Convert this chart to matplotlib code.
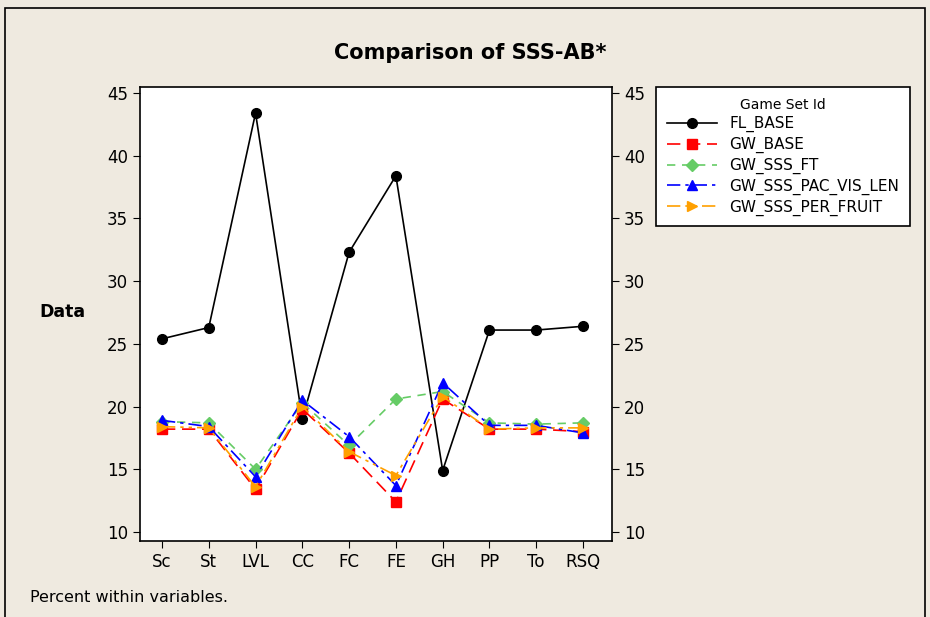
import matplotlib
matplotlib.use("Agg")
import matplotlib.pyplot as plt
from matplotlib.patches import Rectangle

# Data
categories = ["Sc", "St", "LVL", "CC", "FC", "FE", "GH", "PP", "To", "RSQ"]

fl_base = [25.4, 26.3, 43.4, 19.0, 32.3, 38.4, 14.9, 26.1, 26.1, 26.4]
gw_base = [18.2, 18.2, 13.4, 19.8, 16.3, 12.4, 20.6, 18.2, 18.2, 18.0]
gw_sss_ft = [18.8, 18.7, 15.0, 20.3, 16.9, 20.6, 21.2, 18.7, 18.6, 18.7]
gw_sss_pac_vis_len = [18.9, 18.4, 14.4, 20.5, 17.6, 13.7, 21.9, 18.5, 18.5, 17.9]
gw_sss_per_fruit = [18.4, 18.3, 13.6, 20.0, 16.4, 14.5, 20.8, 18.2, 18.3, 18.3]

series = [
    ("FL_BASE", fl_base, "black", "-", "o"),
    ("GW_BASE", gw_base, "#FF0000", (0, (8, 4)), "s"),
    ("GW_SSS_FT", gw_sss_ft, "#66CC66", (0, (5, 4)), "D"),
    ("GW_SSS_PAC_VIS_LEN", gw_sss_pac_vis_len, "#0000FF", (0, (8, 3, 2, 3)), "^"),
    ("GW_SSS_PER_FRUIT", gw_sss_per_fruit, "#FFA000", (0, (8, 3, 2, 3, 2, 3)), ">"),
]

bg = "#EFEAE0"

fig = plt.figure(figsize=(9.3, 6.17), dpi=100, facecolor=bg)
ax = fig.add_axes([140 / 930, 1 - 541 / 617, 472 / 930, 454 / 617])
ax.set_facecolor("white")

x = list(range(len(categories)))
for name, vals, color, ls, mk in series:
    ax.plot(x, vals, color=color, linestyle=ls, linewidth=1.2,
            marker=mk, markersize=7 if mk != "D" else 6,
            markerfacecolor=color, markeredgecolor=color, label=name)

ax.set_xlim(-0.47, 9.62)
ax.set_ylim(9.28, 45.48)
ax.set_xticks(x)
ax.set_xticklabels(categories, fontsize=12)
ax.set_yticks(range(10, 46, 5))
ax.tick_params(axis="y", labelsize=12, direction="out", length=5,
               left=True, right=True, labelleft=True, labelright=True)
ax.tick_params(axis="x", direction="out", length=5)
for sp in ax.spines.values():
    sp.set_linewidth(1.2)

fig.text(470 / 930, 1 - 53 / 617, "Comparison of SSS-AB*", ha="center",
         va="center", fontsize=15, fontweight="bold")
fig.text(62 / 930, 1 - 312 / 617, "Data", ha="center", va="center",
         fontsize=12.5, fontweight="bold")
fig.text(30 / 930, 1 - 598 / 617, "Percent within variables.", ha="left",
         va="center", fontsize=11.5)

leg = fig.legend(loc="upper left", bbox_to_anchor=(656 / 930, 1 - 87 / 617),
                 borderaxespad=0, title="Game Set Id", fontsize=11,
                 title_fontsize=10, frameon=True, fancybox=False,
                 framealpha=1, edgecolor="black", handlelength=3.3,
                 borderpad=0.7, labelspacing=0.3, handletextpad=0.8)
leg.get_frame().set_linewidth(1.2)

# outer frame
fig.patches.append(Rectangle((5 / 930, -0.01), 920 / 930, 1 - 8 / 617 + 0.01,
                             transform=fig.transFigure, fill=False,
                             edgecolor="black", linewidth=1.2))

fig.savefig("out.png", dpi=100, facecolor=bg)
